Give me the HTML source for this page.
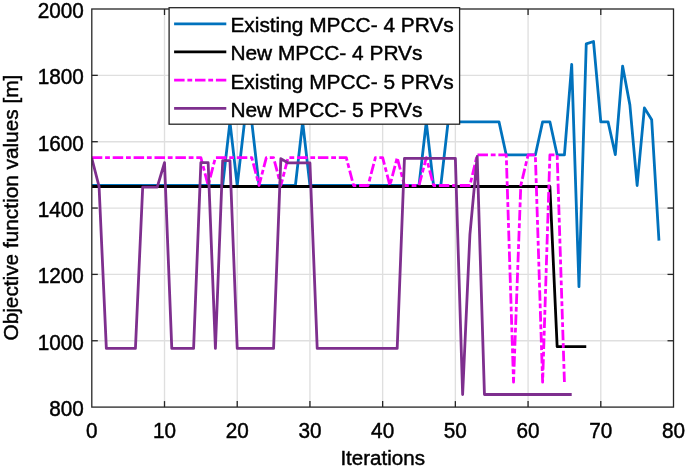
<!DOCTYPE html>
<html><head><meta charset="utf-8"><title>Objective function values vs Iterations</title>
<style>
html,body{margin:0;padding:0;background:#fff;}
body{width:685px;height:473px;overflow:hidden;}
#wrap{width:685px;height:473px;will-change:transform;background:#fff;}
svg{display:block;}
text{font-family:'Liberation Sans', Arial, Helvetica, sans-serif;fill:#000;stroke:#000;stroke-width:0.45px;}
</style></head><body><div id="wrap">
<svg width="685" height="473" viewBox="0 0 685 473">
<rect x="0" y="0" width="685" height="473" fill="#ffffff"/>

<g stroke="#dfdfdf" stroke-width="1.35" fill="none">
<line x1="164.51" y1="9.0" x2="164.51" y2="407.1"/>
<line x1="237.23" y1="9.0" x2="237.23" y2="407.1"/>
<line x1="309.94" y1="9.0" x2="309.94" y2="407.1"/>
<line x1="382.65" y1="9.0" x2="382.65" y2="407.1"/>
<line x1="455.36" y1="9.0" x2="455.36" y2="407.1"/>
<line x1="528.07" y1="9.0" x2="528.07" y2="407.1"/>
<line x1="600.79" y1="9.0" x2="600.79" y2="407.1"/>
<line x1="91.8" y1="340.75" x2="673.5" y2="340.75"/>
<line x1="91.8" y1="274.40" x2="673.5" y2="274.40"/>
<line x1="91.8" y1="208.05" x2="673.5" y2="208.05"/>
<line x1="91.8" y1="141.70" x2="673.5" y2="141.70"/>
<line x1="91.8" y1="75.35" x2="673.5" y2="75.35"/>
</g>
<clipPath id="c"><rect x="91.8" y="9.0" width="581.7" height="398.1"/></clipPath>
<g clip-path="url(#c)" fill="none" stroke-width="2.8" stroke-linejoin="round">
<polyline stroke="#0072bd" points="91.80,185.49 99.07,185.49 106.34,185.49 113.61,185.49 120.88,185.49 128.16,185.49 135.43,185.49 142.70,185.49 149.97,185.49 157.24,185.49 164.51,185.49 171.78,185.49 179.06,185.49 186.33,185.49 193.60,185.49 200.87,185.49 208.14,185.49 215.41,185.49 222.68,185.49 229.95,121.80 237.23,185.49 244.50,121.80 251.77,121.80 259.04,185.49 266.31,185.49 273.58,185.49 280.85,185.49 288.12,185.49 295.40,185.49 302.67,121.80 309.94,185.49 317.21,185.49 324.48,185.49 331.75,185.49 339.02,185.49 346.29,185.49 353.56,185.49 360.84,185.49 368.11,185.49 375.38,185.49 382.65,185.49 389.92,185.49 397.19,185.49 404.46,185.49 411.74,185.49 419.01,185.49 426.28,121.80 433.55,185.49 440.82,185.49 448.09,121.80 455.36,121.80 462.63,121.80 469.91,121.80 477.18,121.80 484.45,121.80 491.72,121.80 498.99,121.80 506.26,154.97 513.53,154.97 520.80,154.97 528.07,154.97 535.35,154.97 542.62,121.80 549.89,121.80 557.16,154.97 564.43,154.97 571.70,64.40 578.97,286.67 586.25,43.83 593.52,41.51 600.79,121.80 608.06,121.80 615.33,154.64 622.60,66.06 629.87,104.88 637.14,185.49 644.41,107.86 651.69,119.80 658.96,240.56"/>
<polyline stroke="#000000" points="91.80,186.49 99.07,186.49 106.34,186.49 113.61,186.49 120.88,186.49 128.16,186.49 135.43,186.49 142.70,186.49 149.97,186.49 157.24,186.49 164.51,186.49 171.78,186.49 179.06,186.49 186.33,186.49 193.60,186.49 200.87,186.49 208.14,186.49 215.41,186.49 222.68,186.49 229.95,186.49 237.23,186.49 244.50,186.49 251.77,186.49 259.04,186.49 266.31,186.49 273.58,186.49 280.85,186.49 288.12,186.49 295.40,186.49 302.67,186.49 309.94,186.49 317.21,186.49 324.48,186.49 331.75,186.49 339.02,186.49 346.29,186.49 353.56,186.49 360.84,186.49 368.11,186.49 375.38,186.49 382.65,186.49 389.92,186.49 397.19,186.49 404.46,186.49 411.74,186.49 419.01,186.49 426.28,186.49 433.55,186.49 440.82,186.49 448.09,186.49 455.36,186.49 462.63,186.49 469.91,186.49 477.18,186.49 484.45,186.49 491.72,186.49 498.99,186.49 506.26,186.49 513.53,186.49 520.80,186.49 528.07,186.49 535.35,186.49 542.62,186.49 549.89,186.49 557.16,346.72 564.43,346.72 571.70,346.72 578.97,346.72 586.25,346.72"/>
<polyline stroke="#ff00ff" stroke-dasharray="10.5 2.8 4.8 2.8" points="91.80,157.62 99.07,157.62 106.34,157.62 113.61,157.62 120.88,157.62 128.16,157.62 135.43,157.62 142.70,157.62 149.97,157.62 157.24,157.62 164.51,157.62 171.78,157.62 179.06,157.62 186.33,157.62 193.60,157.62 200.87,157.62 208.14,185.49 215.41,157.62 222.68,157.62 229.95,157.62 237.23,157.62 244.50,157.62 251.77,157.62 259.04,185.49 266.31,157.62 273.58,157.62 280.85,185.49 288.12,157.62 295.40,157.62 302.67,157.62 309.94,157.62 317.21,157.62 324.48,157.62 331.75,157.62 339.02,157.62 346.29,157.62 353.56,185.49 360.84,185.49 368.11,185.49 375.38,157.62 382.65,157.62 389.92,185.49 397.19,157.62 404.46,185.49 411.74,185.49 419.01,185.49 426.28,157.62 433.55,185.49 440.82,185.49 448.09,185.49 455.36,185.49 462.63,185.49 469.91,185.49 477.18,154.97 484.45,154.97 491.72,154.97 498.99,154.97 506.26,154.97 513.53,382.22 520.80,185.49 528.07,154.97 535.35,154.97 542.62,382.22 549.89,154.97 557.16,154.97 564.43,382.22"/>
<polyline stroke="#7e2f8e" points="91.80,158.29 99.07,186.49 106.34,348.38 113.61,348.38 120.88,348.38 128.16,348.38 135.43,348.38 142.70,187.15 149.97,187.15 157.24,187.15 164.51,162.60 171.78,348.38 179.06,348.38 186.33,348.38 193.60,348.38 200.87,162.60 208.14,162.60 215.41,348.38 222.68,160.61 229.95,160.61 237.23,348.38 244.50,348.38 251.77,348.38 259.04,348.38 266.31,348.38 273.58,348.38 280.85,158.62 288.12,162.93 295.40,162.93 302.67,162.93 309.94,162.93 317.21,348.38 324.48,348.38 331.75,348.38 339.02,348.38 346.29,348.38 353.56,348.38 360.84,348.38 368.11,348.38 375.38,348.38 382.65,348.38 389.92,348.38 397.19,348.38 404.46,158.29 411.74,158.29 419.01,158.29 426.28,158.29 433.55,158.29 440.82,158.29 448.09,158.29 455.36,158.29 462.63,394.49 469.91,234.59 477.18,156.30 484.45,394.49 491.72,394.49 498.99,394.49 506.26,394.49 513.53,394.49 520.80,394.49 528.07,394.49 535.35,394.49 542.62,394.49 549.89,394.49 557.16,394.49 564.43,394.49 571.70,394.49"/>
</g>
<g stroke="#262626" stroke-width="1.3" fill="none">
<rect x="91.8" y="9.0" width="581.7" height="398.1"/>
<line x1="164.51" y1="407.1" x2="164.51" y2="401.1"/>
<line x1="164.51" y1="9.0" x2="164.51" y2="15.0"/>
<line x1="237.23" y1="407.1" x2="237.23" y2="401.1"/>
<line x1="237.23" y1="9.0" x2="237.23" y2="15.0"/>
<line x1="309.94" y1="407.1" x2="309.94" y2="401.1"/>
<line x1="309.94" y1="9.0" x2="309.94" y2="15.0"/>
<line x1="382.65" y1="407.1" x2="382.65" y2="401.1"/>
<line x1="382.65" y1="9.0" x2="382.65" y2="15.0"/>
<line x1="455.36" y1="407.1" x2="455.36" y2="401.1"/>
<line x1="455.36" y1="9.0" x2="455.36" y2="15.0"/>
<line x1="528.07" y1="407.1" x2="528.07" y2="401.1"/>
<line x1="528.07" y1="9.0" x2="528.07" y2="15.0"/>
<line x1="600.79" y1="407.1" x2="600.79" y2="401.1"/>
<line x1="600.79" y1="9.0" x2="600.79" y2="15.0"/>
<line x1="91.8" y1="340.75" x2="97.8" y2="340.75"/>
<line x1="673.5" y1="340.75" x2="667.5" y2="340.75"/>
<line x1="91.8" y1="274.40" x2="97.8" y2="274.40"/>
<line x1="673.5" y1="274.40" x2="667.5" y2="274.40"/>
<line x1="91.8" y1="208.05" x2="97.8" y2="208.05"/>
<line x1="673.5" y1="208.05" x2="667.5" y2="208.05"/>
<line x1="91.8" y1="141.70" x2="97.8" y2="141.70"/>
<line x1="673.5" y1="141.70" x2="667.5" y2="141.70"/>
<line x1="91.8" y1="75.35" x2="97.8" y2="75.35"/>
<line x1="673.5" y1="75.35" x2="667.5" y2="75.35"/>
</g>
<text transform="translate(91.80,437.60) scale(0.97,1)" text-anchor="middle" font-size="21.4">0</text>
<text transform="translate(164.51,437.60) scale(0.97,1)" text-anchor="middle" font-size="21.4">10</text>
<text transform="translate(237.23,437.60) scale(0.97,1)" text-anchor="middle" font-size="21.4">20</text>
<text transform="translate(309.94,437.60) scale(0.97,1)" text-anchor="middle" font-size="21.4">30</text>
<text transform="translate(382.65,437.60) scale(0.97,1)" text-anchor="middle" font-size="21.4">40</text>
<text transform="translate(455.36,437.60) scale(0.97,1)" text-anchor="middle" font-size="21.4">50</text>
<text transform="translate(528.07,437.60) scale(0.97,1)" text-anchor="middle" font-size="21.4">60</text>
<text transform="translate(600.79,437.60) scale(0.97,1)" text-anchor="middle" font-size="21.4">70</text>
<text transform="translate(673.50,437.60) scale(0.97,1)" text-anchor="middle" font-size="21.4">80</text>
<text transform="translate(83.80,416.00) scale(0.97,1)" text-anchor="end" font-size="21.4">800</text>
<text transform="translate(83.80,349.65) scale(0.97,1)" text-anchor="end" font-size="21.4">1000</text>
<text transform="translate(83.80,283.30) scale(0.97,1)" text-anchor="end" font-size="21.4">1200</text>
<text transform="translate(83.80,216.95) scale(0.97,1)" text-anchor="end" font-size="21.4">1400</text>
<text transform="translate(83.80,150.60) scale(0.97,1)" text-anchor="end" font-size="21.4">1600</text>
<text transform="translate(83.80,84.25) scale(0.97,1)" text-anchor="end" font-size="21.4">1800</text>
<text transform="translate(83.80,17.90) scale(0.97,1)" text-anchor="end" font-size="21.4">2000</text>
<text transform="translate(382.70,465.00) scale(0.98,1)" text-anchor="middle" font-size="21.0">Iterations</text>
<text transform="translate(18.00,207.60) rotate(-90)" text-anchor="middle" font-size="20.8">Objective function values [m]</text>
<rect x="169.1" y="7.7" width="290.5" height="116.5" fill="#ffffff" stroke="#262626" stroke-width="1.3"/>
<line x1="174.1" y1="23.8" x2="226.3" y2="23.8" stroke="#0072bd" stroke-width="2.8"/>
<text transform="translate(230.40,31.90) scale(1.028,1)" text-anchor="start" font-size="20.3">Existing MPCC- 4 PRVs</text>
<line x1="174.1" y1="51.9" x2="226.3" y2="51.9" stroke="#000000" stroke-width="2.8"/>
<text transform="translate(230.40,60.30) scale(1.028,1)" text-anchor="start" font-size="20.3">New MPCC- 4 PRVs</text>
<line x1="174.1" y1="80.1" x2="226.3" y2="80.1" stroke="#ff00ff" stroke-width="2.8" stroke-dasharray="10.5 2.8 4.8 2.8"/>
<text transform="translate(230.40,88.70) scale(1.028,1)" text-anchor="start" font-size="20.3">Existing MPCC- 5 PRVs</text>
<line x1="174.1" y1="108.3" x2="226.3" y2="108.3" stroke="#7e2f8e" stroke-width="2.8"/>
<text transform="translate(230.40,117.00) scale(1.028,1)" text-anchor="start" font-size="20.3">New MPCC- 5 PRVs</text>
</svg></div>
</body></html>
